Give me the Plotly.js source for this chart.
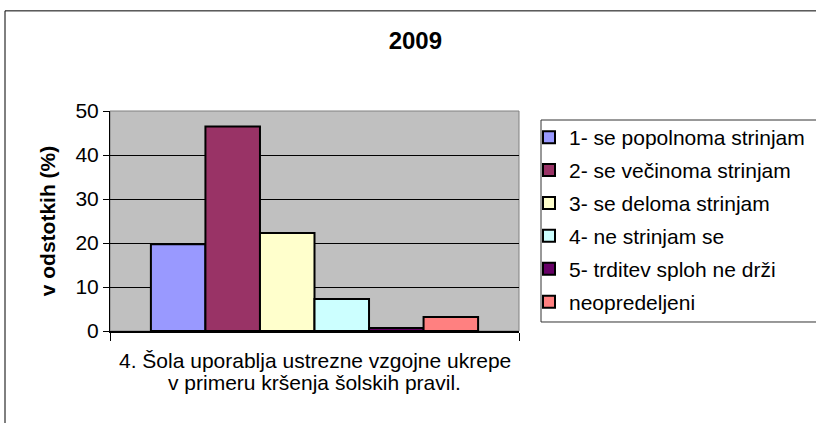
<!DOCTYPE html>
<html>
<head>
<meta charset="utf-8">
<script src="https://cdn.plot.ly/plotly-3.0.1.min.js"></script>
<style>
html,body{margin:0;padding:0;background:#fff;}
#chart{width:816px;height:423px;}
</style>
</head>
<body>
<div id="chart"></div>
<script>
const categoryLines = ['4. Šola uporablja ustrezne vzgojne ukrepe', 'v primeru kršenja šolskih pravil.'];
const seriesNames = ['1- se popolnoma strinjam','2- se večinoma strinjam','3- se deloma strinjam','4- ne strinjam se','5- trditev sploh ne drži','neopredeljeni'];
const seriesValues = [19.7, 46.5, 22.3, 7.3, 0.7, 3.2];
const seriesColors = ['#9999FF','#993366','#FFFFCC','#CCFFFF','#660066','#FF8080'];
const yTicks = [0,10,20,30,40,50];
const chartTitle = '2009';
const yTitle = 'v odstotkih (%)';

const FONT = 'Liberation Sans, Arial, sans-serif';

const traces = seriesNames.map((name, i) => ({
  type: 'bar',
  name: name,
  legendgroup: 'g' + i,
  x: ['q4'],
  y: [seriesValues[i]],
  marker: {color: seriesColors[i], line: {color: '#000', width: 2}},
  hoverinfo: 'none'
}));

// pixel helpers for the plot area (l=110, plot width 409, top=111, plot height 219.7)
const px = x => (x - 110) / 409;
const py = y => (330.7 - y) / 219.7;

const layout = {
  width: 816, height: 423,
  margin: {l: 110, r: 297, t: 111, b: 92, autoexpand: false},
  paper_bgcolor: '#fff',
  plot_bgcolor: '#C0C0C0',
  font: {family: FONT, size: 21, color: '#000'},
  showlegend: true,
  barmode: 'group',
  bargap: 0.2,
  bargroupgap: 0,
  title: {text: '<b>' + chartTitle + '</b>', font: {family: FONT, size: 24, color: '#000'},
          x: 0.509, xref: 'container', xanchor: 'center', y: 0.905, yref: 'container', yanchor: 'middle'},
  xaxis: {
    type: 'category',
    showticklabels: false,
    ticks: 'outside', tickson: 'boundaries', ticklen: 8, tickcolor: '#000', tickwidth: 1,
    showline: true, linecolor: '#000', linewidth: 2,
    showgrid: false, zeroline: false,
    automargin: false
  },
  yaxis: {
    range: [0, 50],
    tickvals: yTicks,
    ticks: 'outside', ticklen: 6, tickcolor: '#000', tickwidth: 1,
    showline: true, linecolor: '#000', linewidth: 1,
    showgrid: true, gridcolor: '#000', gridwidth: 1,
    zeroline: false,
    tickfont: {family: FONT, size: 21, color: '#000'},
    title: {text: '<b>' + yTitle + '</b>', font: {family: FONT, size: 21, color: '#000'}, standoff: 14},
    automargin: false
  },
  legend: {
    x: px(529), xanchor: 'left', y: py(117), yanchor: 'top',
    bgcolor: 'rgba(0,0,0,0)', borderwidth: 0,
    font: {family: FONT, size: 21, color: '#000'},
    traceorder: 'grouped',
    tracegroupgap: 2.6,
    itemwidth: 30
  },
  annotations: categoryLines.map((t, i) => ({
    text: t, xref: 'paper', yref: 'paper', x: 0.5, y: py(360 + i * 22.5),
    xanchor: 'center', yanchor: 'middle', showarrow: false,
    font: {family: FONT, size: 21, color: '#000'}
  })),
  shapes: [
    {type: 'rect', xref: 'paper', yref: 'paper', x0: 0, x1: 1, y0: 0, y1: 1,
     line: {color: '#808080', width: 1}, fillcolor: 'rgba(0,0,0,0)', layer: 'below'},
    {type: 'rect', xref: 'paper', yref: 'paper', x0: px(5), x1: 2, y0: -1, y1: py(11),
     line: {color: '#000', width: 1}, fillcolor: 'rgba(0,0,0,0)', layer: 'below'},
    {type: 'rect', xref: 'paper', yref: 'paper', x0: px(541), x1: 2, y0: py(321.7), y1: py(120),
     line: {color: '#333', width: 1}, fillcolor: '#fff', layer: 'below'}
  ]
};

Plotly.newPlot('chart', traces, layout, {staticPlot: true, displayModeBar: false});
</script>
</body>
</html>
